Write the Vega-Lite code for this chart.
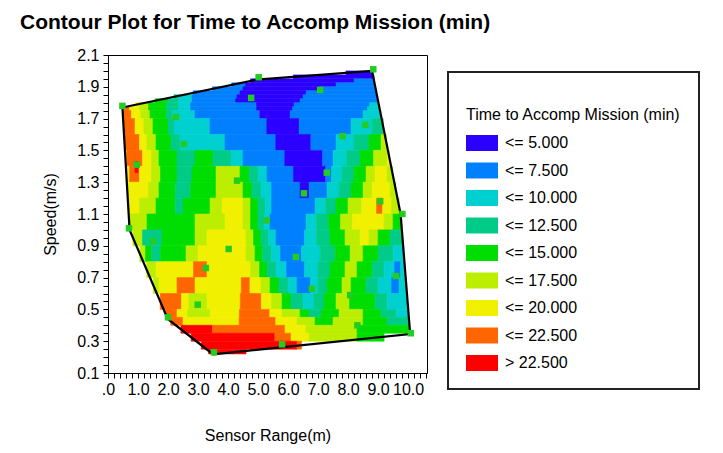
{
"$schema":"https://vega.github.io/schema/vega-lite/v6.json",
"width":319,"height":318,
"autosize":{"type":"none"},
"padding":{"left":108,"top":55,"right":296,"bottom":80},
"background":"white",
"config":{"font":"Liberation Sans","view":{"stroke":"black","strokeWidth":1}},
"title":{"text":"Contour Plot for Time to Accomp Mission (min)","anchor":"start","frame":"group","dx":-88,"offset":14,"fontSize":21,"fontWeight":"bold","color":"black","font":"Liberation Sans"},
"datasets":{
"cells":[
{"xa":7.93,"xb":8.82,"ya":1.975,"yb":2.0,"v":4},
{"xa":6.18,"xb":8.86,"ya":1.95,"yb":1.975,"v":4},
{"xa":4.75,"xb":8.2,"ya":1.925,"yb":1.95,"v":4},{"xa":8.2,"xb":8.87,"ya":1.925,"yb":1.95,"v":6},
{"xa":4.12,"xb":4.58,"ya":1.9,"yb":1.925,"v":6},{"xa":4.58,"xb":7.6,"ya":1.9,"yb":1.925,"v":4},{"xa":7.6,"xb":8.89,"ya":1.9,"yb":1.925,"v":6},
{"xa":3.48,"xb":4.5,"ya":1.875,"yb":1.9,"v":6},{"xa":4.5,"xb":7.04,"ya":1.875,"yb":1.9,"v":4},{"xa":7.04,"xb":8.91,"ya":1.875,"yb":1.9,"v":6},
{"xa":2.84,"xb":4.4,"ya":1.85,"yb":1.875,"v":6},{"xa":4.4,"xb":6.6,"ya":1.85,"yb":1.875,"v":4},{"xa":6.6,"xb":8.94,"ya":1.85,"yb":1.875,"v":6},
{"xa":2.2,"xb":2.35,"ya":1.825,"yb":1.85,"v":11},{"xa":2.35,"xb":2.8,"ya":1.825,"yb":1.85,"v":9},{"xa":2.8,"xb":4.3,"ya":1.825,"yb":1.85,"v":6},{"xa":4.3,"xb":6.5,"ya":1.825,"yb":1.85,"v":4},{"xa":6.5,"xb":8.95,"ya":1.825,"yb":1.85,"v":6},
{"xa":1.57,"xb":2.0,"ya":1.8,"yb":1.825,"v":14},{"xa":2.0,"xb":2.35,"ya":1.8,"yb":1.825,"v":11},{"xa":2.35,"xb":2.8,"ya":1.8,"yb":1.825,"v":9},{"xa":2.8,"xb":4.25,"ya":1.8,"yb":1.825,"v":6},{"xa":4.25,"xb":6.4,"ya":1.8,"yb":1.825,"v":4},{"xa":6.4,"xb":8.97,"ya":1.8,"yb":1.825,"v":6},
{"xa":0.93,"xb":1.05,"ya":1.775,"yb":1.8,"v":19},{"xa":1.05,"xb":1.35,"ya":1.775,"yb":1.8,"v":16},{"xa":1.35,"xb":1.95,"ya":1.775,"yb":1.8,"v":14},{"xa":1.95,"xb":2.35,"ya":1.775,"yb":1.8,"v":11},{"xa":2.35,"xb":2.75,"ya":1.775,"yb":1.8,"v":9},{"xa":2.75,"xb":4.95,"ya":1.775,"yb":1.8,"v":6},{"xa":4.95,"xb":6.2,"ya":1.775,"yb":1.8,"v":4},{"xa":6.2,"xb":8.72,"ya":1.775,"yb":1.8,"v":6},{"xa":8.72,"xb":9.02,"ya":1.775,"yb":1.8,"v":9},
{"xa":0.5,"xb":0.72,"ya":1.75,"yb":1.775,"v":21},{"xa":0.72,"xb":1.05,"ya":1.75,"yb":1.775,"v":19},{"xa":1.05,"xb":1.35,"ya":1.75,"yb":1.775,"v":16},{"xa":1.35,"xb":1.95,"ya":1.75,"yb":1.775,"v":14},{"xa":1.95,"xb":2.35,"ya":1.75,"yb":1.775,"v":11},{"xa":2.35,"xb":2.75,"ya":1.75,"yb":1.775,"v":9},{"xa":2.75,"xb":4.95,"ya":1.75,"yb":1.775,"v":6},{"xa":4.95,"xb":6.15,"ya":1.75,"yb":1.775,"v":4},{"xa":6.15,"xb":8.65,"ya":1.75,"yb":1.775,"v":6},{"xa":8.65,"xb":9.05,"ya":1.75,"yb":1.775,"v":9},
{"xa":0.5,"xb":0.78,"ya":1.7,"yb":1.75,"v":21},{"xa":0.78,"xb":1.1,"ya":1.7,"yb":1.75,"v":19},{"xa":1.1,"xb":1.4,"ya":1.7,"yb":1.75,"v":16},{"xa":1.4,"xb":1.95,"ya":1.7,"yb":1.75,"v":14},{"xa":1.95,"xb":2.15,"ya":1.7,"yb":1.75,"v":11},{"xa":2.15,"xb":2.9,"ya":1.7,"yb":1.75,"v":9},{"xa":2.9,"xb":5.06,"ya":1.7,"yb":1.75,"v":6},{"xa":5.06,"xb":6.07,"ya":1.7,"yb":1.75,"v":4},{"xa":6.07,"xb":8.5,"ya":1.7,"yb":1.75,"v":6},{"xa":8.5,"xb":9.09,"ya":1.7,"yb":1.75,"v":9},
{"xa":0.52,"xb":0.9,"ya":1.6,"yb":1.7,"v":21},{"xa":0.9,"xb":1.2,"ya":1.6,"yb":1.7,"v":19},{"xa":1.2,"xb":1.5,"ya":1.6,"yb":1.7,"v":16},{"xa":1.5,"xb":2.0,"ya":1.6,"yb":1.7,"v":14},{"xa":2.0,"xb":2.2,"ya":1.6,"yb":1.7,"v":11},{"xa":2.2,"xb":3.4,"ya":1.6,"yb":1.7,"v":9},{"xa":3.4,"xb":5.29,"ya":1.6,"yb":1.7,"v":6},{"xa":5.29,"xb":6.37,"ya":1.6,"yb":1.7,"v":4},{"xa":6.37,"xb":8.1,"ya":1.6,"yb":1.7,"v":6},{"xa":8.1,"xb":8.8,"ya":1.6,"yb":1.7,"v":9},{"xa":8.8,"xb":9.17,"ya":1.6,"yb":1.7,"v":11},
{"xa":0.55,"xb":1.05,"ya":1.5,"yb":1.6,"v":21},{"xa":1.05,"xb":1.3,"ya":1.5,"yb":1.6,"v":19},{"xa":1.3,"xb":1.6,"ya":1.5,"yb":1.6,"v":16},{"xa":1.6,"xb":2.1,"ya":1.5,"yb":1.6,"v":14},{"xa":2.1,"xb":2.4,"ya":1.5,"yb":1.6,"v":11},{"xa":2.4,"xb":3.9,"ya":1.5,"yb":1.6,"v":9},{"xa":3.9,"xb":5.59,"ya":1.5,"yb":1.6,"v":6},{"xa":5.59,"xb":6.76,"ya":1.5,"yb":1.6,"v":4},{"xa":6.76,"xb":7.6,"ya":1.5,"yb":1.6,"v":6},{"xa":7.6,"xb":8.2,"ya":1.5,"yb":1.6,"v":9},{"xa":8.2,"xb":8.7,"ya":1.5,"yb":1.6,"v":11},{"xa":8.7,"xb":9.1,"ya":1.5,"yb":1.6,"v":14},{"xa":9.1,"xb":9.28,"ya":1.5,"yb":1.6,"v":16},
{"xa":0.58,"xb":0.63,"ya":1.4,"yb":1.5,"v":19},{"xa":0.63,"xb":1.15,"ya":1.4,"yb":1.5,"v":21},{"xa":1.15,"xb":1.45,"ya":1.4,"yb":1.5,"v":19},{"xa":1.45,"xb":1.7,"ya":1.4,"yb":1.5,"v":16},{"xa":1.7,"xb":2.3,"ya":1.4,"yb":1.5,"v":14},{"xa":2.3,"xb":2.9,"ya":1.4,"yb":1.5,"v":11},{"xa":2.9,"xb":3.5,"ya":1.4,"yb":1.5,"v":14},{"xa":3.5,"xb":4.1,"ya":1.4,"yb":1.5,"v":11},{"xa":4.1,"xb":4.5,"ya":1.4,"yb":1.5,"v":9},{"xa":4.5,"xb":5.89,"ya":1.4,"yb":1.5,"v":6},{"xa":5.89,"xb":7.15,"ya":1.4,"yb":1.5,"v":4},{"xa":7.15,"xb":7.5,"ya":1.4,"yb":1.5,"v":6},{"xa":7.5,"xb":7.95,"ya":1.4,"yb":1.5,"v":9},{"xa":7.95,"xb":8.4,"ya":1.4,"yb":1.5,"v":11},{"xa":8.4,"xb":8.85,"ya":1.4,"yb":1.5,"v":14},{"xa":8.85,"xb":9.3,"ya":1.4,"yb":1.5,"v":16},{"xa":9.3,"xb":9.38,"ya":1.4,"yb":1.5,"v":19},
{"xa":0.61,"xb":0.72,"ya":1.3,"yb":1.4,"v":19},{"xa":0.72,"xb":1.05,"ya":1.3,"yb":1.4,"v":21},{"xa":1.05,"xb":1.45,"ya":1.3,"yb":1.4,"v":19},{"xa":1.45,"xb":1.75,"ya":1.3,"yb":1.4,"v":16},{"xa":1.75,"xb":2.3,"ya":1.3,"yb":1.4,"v":14},{"xa":2.3,"xb":2.8,"ya":1.3,"yb":1.4,"v":11},{"xa":2.8,"xb":3.6,"ya":1.3,"yb":1.4,"v":14},{"xa":3.6,"xb":4.4,"ya":1.3,"yb":1.4,"v":16},{"xa":4.4,"xb":4.7,"ya":1.3,"yb":1.4,"v":14},{"xa":4.7,"xb":5.0,"ya":1.3,"yb":1.4,"v":11},{"xa":5.0,"xb":5.3,"ya":1.3,"yb":1.4,"v":9},{"xa":5.3,"xb":6.18,"ya":1.3,"yb":1.4,"v":6},{"xa":6.18,"xb":7.25,"ya":1.3,"yb":1.4,"v":4},{"xa":7.25,"xb":7.45,"ya":1.3,"yb":1.4,"v":6},{"xa":7.45,"xb":7.8,"ya":1.3,"yb":1.4,"v":9},{"xa":7.8,"xb":8.2,"ya":1.3,"yb":1.4,"v":11},{"xa":8.2,"xb":8.6,"ya":1.3,"yb":1.4,"v":14},{"xa":8.6,"xb":8.9,"ya":1.3,"yb":1.4,"v":16},{"xa":8.9,"xb":9.3,"ya":1.3,"yb":1.4,"v":19},{"xa":9.3,"xb":9.49,"ya":1.3,"yb":1.4,"v":16},
{"xa":0.9,"xb":1.0,"ya":1.36,"yb":1.43,"v":24},
{"xa":0.64,"xb":1.35,"ya":1.2,"yb":1.3,"v":19},{"xa":1.35,"xb":1.7,"ya":1.2,"yb":1.3,"v":16},{"xa":1.7,"xb":2.25,"ya":1.2,"yb":1.3,"v":14},{"xa":2.25,"xb":2.75,"ya":1.2,"yb":1.3,"v":11},{"xa":2.75,"xb":3.6,"ya":1.2,"yb":1.3,"v":14},{"xa":3.6,"xb":4.5,"ya":1.2,"yb":1.3,"v":16},{"xa":4.5,"xb":4.8,"ya":1.2,"yb":1.3,"v":14},{"xa":4.8,"xb":5.1,"ya":1.2,"yb":1.3,"v":11},{"xa":5.1,"xb":5.45,"ya":1.2,"yb":1.3,"v":9},{"xa":5.45,"xb":6.4,"ya":1.2,"yb":1.3,"v":6},{"xa":6.4,"xb":6.7,"ya":1.2,"yb":1.3,"v":4},{"xa":6.7,"xb":7.3,"ya":1.2,"yb":1.3,"v":6},{"xa":7.3,"xb":7.7,"ya":1.2,"yb":1.3,"v":9},{"xa":7.7,"xb":8.1,"ya":1.2,"yb":1.3,"v":11},{"xa":8.1,"xb":8.5,"ya":1.2,"yb":1.3,"v":14},{"xa":8.5,"xb":8.8,"ya":1.2,"yb":1.3,"v":16},{"xa":8.8,"xb":9.4,"ya":1.2,"yb":1.3,"v":19},{"xa":9.4,"xb":9.59,"ya":1.2,"yb":1.3,"v":16},
{"xa":0.67,"xb":1.05,"ya":1.1,"yb":1.2,"v":19},{"xa":1.05,"xb":1.6,"ya":1.1,"yb":1.2,"v":16},{"xa":1.6,"xb":2.25,"ya":1.1,"yb":1.2,"v":14},{"xa":2.25,"xb":2.5,"ya":1.1,"yb":1.2,"v":11},{"xa":2.5,"xb":3.4,"ya":1.1,"yb":1.2,"v":14},{"xa":3.4,"xb":3.8,"ya":1.1,"yb":1.2,"v":16},{"xa":3.8,"xb":4.5,"ya":1.1,"yb":1.2,"v":19},{"xa":4.5,"xb":4.75,"ya":1.1,"yb":1.2,"v":16},{"xa":4.75,"xb":5.0,"ya":1.1,"yb":1.2,"v":14},{"xa":5.0,"xb":5.25,"ya":1.1,"yb":1.2,"v":11},{"xa":5.25,"xb":5.45,"ya":1.1,"yb":1.2,"v":9},{"xa":5.45,"xb":6.9,"ya":1.1,"yb":1.2,"v":6},{"xa":6.9,"xb":7.25,"ya":1.1,"yb":1.2,"v":9},{"xa":7.25,"xb":7.6,"ya":1.1,"yb":1.2,"v":11},{"xa":7.6,"xb":8.0,"ya":1.1,"yb":1.2,"v":14},{"xa":8.0,"xb":8.45,"ya":1.1,"yb":1.2,"v":16},{"xa":8.45,"xb":8.95,"ya":1.1,"yb":1.2,"v":19},{"xa":8.95,"xb":9.15,"ya":1.1,"yb":1.2,"v":21},{"xa":9.15,"xb":9.45,"ya":1.1,"yb":1.2,"v":19},{"xa":9.45,"xb":9.7,"ya":1.1,"yb":1.2,"v":16},
{"xa":0.7,"xb":1.3,"ya":1.0,"yb":1.1,"v":16},{"xa":1.3,"xb":2.9,"ya":1.0,"yb":1.1,"v":14},{"xa":2.9,"xb":3.9,"ya":1.0,"yb":1.1,"v":16},{"xa":3.9,"xb":4.5,"ya":1.0,"yb":1.1,"v":19},{"xa":4.5,"xb":4.75,"ya":1.0,"yb":1.1,"v":16},{"xa":4.75,"xb":5.0,"ya":1.0,"yb":1.1,"v":14},{"xa":5.0,"xb":5.2,"ya":1.0,"yb":1.1,"v":11},{"xa":5.2,"xb":5.4,"ya":1.0,"yb":1.1,"v":9},{"xa":5.4,"xb":6.6,"ya":1.0,"yb":1.1,"v":6},{"xa":6.6,"xb":6.95,"ya":1.0,"yb":1.1,"v":9},{"xa":6.95,"xb":7.35,"ya":1.0,"yb":1.1,"v":11},{"xa":7.35,"xb":7.75,"ya":1.0,"yb":1.1,"v":14},{"xa":7.75,"xb":8.15,"ya":1.0,"yb":1.1,"v":16},{"xa":8.15,"xb":9.2,"ya":1.0,"yb":1.1,"v":19},{"xa":9.2,"xb":9.5,"ya":1.0,"yb":1.1,"v":16},{"xa":9.5,"xb":9.77,"ya":1.0,"yb":1.1,"v":14},
{"xa":0.83,"xb":1.15,"ya":0.9,"yb":1.0,"v":16},{"xa":1.15,"xb":1.8,"ya":0.9,"yb":1.0,"v":11},{"xa":1.8,"xb":2.9,"ya":0.9,"yb":1.0,"v":14},{"xa":2.9,"xb":3.3,"ya":0.9,"yb":1.0,"v":16},{"xa":3.3,"xb":4.6,"ya":0.9,"yb":1.0,"v":19},{"xa":4.6,"xb":4.85,"ya":0.9,"yb":1.0,"v":16},{"xa":4.85,"xb":5.1,"ya":0.9,"yb":1.0,"v":14},{"xa":5.1,"xb":5.35,"ya":0.9,"yb":1.0,"v":11},{"xa":5.35,"xb":5.6,"ya":0.9,"yb":1.0,"v":9},{"xa":5.6,"xb":6.55,"ya":0.9,"yb":1.0,"v":6},{"xa":6.55,"xb":6.95,"ya":0.9,"yb":1.0,"v":9},{"xa":6.95,"xb":7.4,"ya":0.9,"yb":1.0,"v":11},{"xa":7.4,"xb":7.9,"ya":0.9,"yb":1.0,"v":14},{"xa":7.9,"xb":8.4,"ya":0.9,"yb":1.0,"v":16},{"xa":8.4,"xb":8.7,"ya":0.9,"yb":1.0,"v":19},{"xa":8.7,"xb":9.0,"ya":0.9,"yb":1.0,"v":16},{"xa":9.0,"xb":9.4,"ya":0.9,"yb":1.0,"v":14},{"xa":9.4,"xb":9.81,"ya":0.9,"yb":1.0,"v":11},
{"xa":1.06,"xb":1.25,"ya":0.8,"yb":0.9,"v":16},{"xa":1.25,"xb":1.45,"ya":0.8,"yb":0.9,"v":14},{"xa":1.45,"xb":1.75,"ya":0.8,"yb":0.9,"v":11},{"xa":1.75,"xb":2.6,"ya":0.8,"yb":0.9,"v":14},{"xa":2.6,"xb":3.0,"ya":0.8,"yb":0.9,"v":16},{"xa":3.0,"xb":4.6,"ya":0.8,"yb":0.9,"v":19},{"xa":4.6,"xb":4.9,"ya":0.8,"yb":0.9,"v":16},{"xa":4.9,"xb":5.15,"ya":0.8,"yb":0.9,"v":14},{"xa":5.15,"xb":5.45,"ya":0.8,"yb":0.9,"v":11},{"xa":5.45,"xb":5.75,"ya":0.8,"yb":0.9,"v":9},{"xa":5.75,"xb":6.45,"ya":0.8,"yb":0.9,"v":6},{"xa":6.45,"xb":7.07,"ya":0.8,"yb":0.9,"v":9},{"xa":7.07,"xb":7.57,"ya":0.8,"yb":0.9,"v":11},{"xa":7.57,"xb":8.07,"ya":0.8,"yb":0.9,"v":14},{"xa":8.07,"xb":8.5,"ya":0.8,"yb":0.9,"v":16},{"xa":8.5,"xb":9.0,"ya":0.8,"yb":0.9,"v":14},{"xa":9.0,"xb":9.5,"ya":0.8,"yb":0.9,"v":11},{"xa":9.5,"xb":9.85,"ya":0.8,"yb":0.9,"v":9},
{"xa":1.29,"xb":1.6,"ya":0.7,"yb":0.8,"v":16},{"xa":1.6,"xb":2.85,"ya":0.7,"yb":0.8,"v":19},{"xa":2.85,"xb":3.3,"ya":0.7,"yb":0.8,"v":21},{"xa":3.3,"xb":4.75,"ya":0.7,"yb":0.8,"v":19},{"xa":4.75,"xb":5.05,"ya":0.7,"yb":0.8,"v":16},{"xa":5.05,"xb":5.3,"ya":0.7,"yb":0.8,"v":14},{"xa":5.3,"xb":5.6,"ya":0.7,"yb":0.8,"v":11},{"xa":5.6,"xb":5.95,"ya":0.7,"yb":0.8,"v":9},{"xa":5.95,"xb":6.55,"ya":0.7,"yb":0.8,"v":6},{"xa":6.55,"xb":7.0,"ya":0.7,"yb":0.8,"v":9},{"xa":7.0,"xb":7.4,"ya":0.7,"yb":0.8,"v":11},{"xa":7.4,"xb":7.9,"ya":0.7,"yb":0.8,"v":14},{"xa":7.9,"xb":8.3,"ya":0.7,"yb":0.8,"v":16},{"xa":8.3,"xb":8.8,"ya":0.7,"yb":0.8,"v":14},{"xa":8.8,"xb":9.2,"ya":0.7,"yb":0.8,"v":11},{"xa":9.2,"xb":9.55,"ya":0.7,"yb":0.8,"v":9},{"xa":9.55,"xb":9.75,"ya":0.7,"yb":0.8,"v":6},{"xa":9.75,"xb":9.89,"ya":0.7,"yb":0.8,"v":9},
{"xa":1.51,"xb":1.7,"ya":0.6,"yb":0.7,"v":16},{"xa":1.7,"xb":2.3,"ya":0.6,"yb":0.7,"v":19},{"xa":2.3,"xb":2.9,"ya":0.6,"yb":0.7,"v":21},{"xa":2.9,"xb":4.44,"ya":0.6,"yb":0.7,"v":19},{"xa":4.44,"xb":4.73,"ya":0.6,"yb":0.7,"v":21},{"xa":4.73,"xb":5.1,"ya":0.6,"yb":0.7,"v":19},{"xa":5.1,"xb":5.4,"ya":0.6,"yb":0.7,"v":16},{"xa":5.4,"xb":5.7,"ya":0.6,"yb":0.7,"v":14},{"xa":5.7,"xb":6.0,"ya":0.6,"yb":0.7,"v":11},{"xa":6.0,"xb":6.3,"ya":0.6,"yb":0.7,"v":9},{"xa":6.3,"xb":6.75,"ya":0.6,"yb":0.7,"v":6},{"xa":6.75,"xb":7.0,"ya":0.6,"yb":0.7,"v":9},{"xa":7.0,"xb":7.3,"ya":0.6,"yb":0.7,"v":11},{"xa":7.3,"xb":7.8,"ya":0.6,"yb":0.7,"v":14},{"xa":7.8,"xb":8.1,"ya":0.6,"yb":0.7,"v":16},{"xa":8.1,"xb":8.6,"ya":0.6,"yb":0.7,"v":14},{"xa":8.6,"xb":9.0,"ya":0.6,"yb":0.7,"v":11},{"xa":9.0,"xb":9.45,"ya":0.6,"yb":0.7,"v":9},{"xa":9.45,"xb":9.7,"ya":0.6,"yb":0.7,"v":6},{"xa":9.7,"xb":9.94,"ya":0.6,"yb":0.7,"v":9},
{"xa":1.74,"xb":2.45,"ya":0.5,"yb":0.6,"v":21},{"xa":2.45,"xb":2.7,"ya":0.5,"yb":0.6,"v":19},{"xa":2.7,"xb":3.3,"ya":0.5,"yb":0.6,"v":16},{"xa":3.3,"xb":4.41,"ya":0.5,"yb":0.6,"v":19},{"xa":4.41,"xb":5.11,"ya":0.5,"yb":0.6,"v":21},{"xa":5.11,"xb":5.45,"ya":0.5,"yb":0.6,"v":19},{"xa":5.45,"xb":5.8,"ya":0.5,"yb":0.6,"v":16},{"xa":5.8,"xb":6.1,"ya":0.5,"yb":0.6,"v":14},{"xa":6.1,"xb":6.5,"ya":0.5,"yb":0.6,"v":11},{"xa":6.5,"xb":6.85,"ya":0.5,"yb":0.6,"v":9},{"xa":6.85,"xb":7.2,"ya":0.5,"yb":0.6,"v":11},{"xa":7.2,"xb":7.6,"ya":0.5,"yb":0.6,"v":14},{"xa":7.6,"xb":8.05,"ya":0.5,"yb":0.6,"v":16},{"xa":8.05,"xb":8.9,"ya":0.5,"yb":0.6,"v":14},{"xa":8.9,"xb":9.3,"ya":0.5,"yb":0.6,"v":11},{"xa":9.3,"xb":9.98,"ya":0.5,"yb":0.6,"v":9},
{"xa":1.91,"xb":2.3,"ya":0.45,"yb":0.5,"v":21},{"xa":2.3,"xb":2.65,"ya":0.45,"yb":0.5,"v":19},{"xa":2.65,"xb":3.4,"ya":0.45,"yb":0.5,"v":16},{"xa":3.4,"xb":4.38,"ya":0.45,"yb":0.5,"v":19},{"xa":4.38,"xb":5.39,"ya":0.45,"yb":0.5,"v":21},{"xa":5.39,"xb":5.8,"ya":0.45,"yb":0.5,"v":19},{"xa":5.8,"xb":6.4,"ya":0.45,"yb":0.5,"v":16},{"xa":6.4,"xb":6.7,"ya":0.45,"yb":0.5,"v":14},{"xa":6.7,"xb":7.1,"ya":0.45,"yb":0.5,"v":11},{"xa":7.1,"xb":7.7,"ya":0.45,"yb":0.5,"v":14},{"xa":7.7,"xb":8.5,"ya":0.45,"yb":0.5,"v":16},{"xa":8.5,"xb":9.1,"ya":0.45,"yb":0.5,"v":14},{"xa":9.1,"xb":9.6,"ya":0.45,"yb":0.5,"v":11},{"xa":9.6,"xb":10.01,"ya":0.45,"yb":0.5,"v":9},
{"xa":2.09,"xb":2.5,"ya":0.4,"yb":0.45,"v":21},{"xa":2.5,"xb":4.37,"ya":0.4,"yb":0.45,"v":19},{"xa":4.37,"xb":5.59,"ya":0.4,"yb":0.45,"v":21},{"xa":5.59,"xb":6.3,"ya":0.4,"yb":0.45,"v":19},{"xa":6.3,"xb":6.9,"ya":0.4,"yb":0.45,"v":16},{"xa":6.9,"xb":7.5,"ya":0.4,"yb":0.45,"v":14},{"xa":7.5,"xb":8.5,"ya":0.4,"yb":0.45,"v":16},{"xa":8.5,"xb":9.3,"ya":0.4,"yb":0.45,"v":14},{"xa":9.3,"xb":10.03,"ya":0.4,"yb":0.45,"v":11},
{"xa":2.43,"xb":3.48,"ya":0.35,"yb":0.4,"v":24},{"xa":3.48,"xb":5.9,"ya":0.35,"yb":0.4,"v":21},{"xa":5.9,"xb":6.6,"ya":0.35,"yb":0.4,"v":19},{"xa":6.6,"xb":8.3,"ya":0.35,"yb":0.4,"v":16},{"xa":8.3,"xb":10.05,"ya":0.35,"yb":0.4,"v":14},
{"xa":2.77,"xb":5.56,"ya":0.3,"yb":0.35,"v":24},{"xa":5.56,"xb":6.1,"ya":0.3,"yb":0.35,"v":21},{"xa":6.1,"xb":6.7,"ya":0.3,"yb":0.35,"v":19},{"xa":6.7,"xb":8.3,"ya":0.3,"yb":0.35,"v":16},{"xa":8.3,"xb":9.2,"ya":0.3,"yb":0.35,"v":14},
{"xa":3.11,"xb":6.3,"ya":0.25,"yb":0.3,"v":24},{"xa":6.3,"xb":6.45,"ya":0.25,"yb":0.3,"v":21},
{"xa":3.35,"xb":4.6,"ya":0.22,"yb":0.25,"v":24}
],
"hull":[{"o":1,"x":0.48,"y":1.77},{"o":2,"x":4.95,"y":1.945},{"o":3,"x":8.8,"y":2.0},{"o":4,"x":9.75,"y":1.1},{"o":5,"x":10.07,"y":0.345},{"o":6,"x":3.5,"y":0.218},{"o":7,"x":1.99,"y":0.44},{"o":8,"x":0.72,"y":1.0},{"o":9,"x":0.48,"y":1.77}],
"pts":[{"x":0.48,"y":1.78},{"x":0.96,"y":1.41},{"x":2.26,"y":1.71},{"x":2.53,"y":1.54},{"x":5.02,"y":1.96},{"x":4.77,"y":1.83},{"x":7.07,"y":1.88},{"x":8.84,"y":2.01},{"x":8.58,"y":1.66},{"x":7.82,"y":1.59},{"x":7.29,"y":1.36},{"x":6.53,"y":1.23},{"x":4.3,"y":1.31},{"x":9.07,"y":1.18},{"x":9.81,"y":1.1},{"x":0.7,"y":1.01},{"x":1.5,"y":0.93},{"x":5.29,"y":1.06},{"x":4.02,"y":0.88},{"x":6.26,"y":0.83},{"x":3.26,"y":0.76},{"x":6.79,"y":0.63},{"x":9.6,"y":0.71},{"x":2.99,"y":0.53},{"x":8.07,"y":0.59},{"x":2.0,"y":0.45},{"x":8.31,"y":0.4},{"x":10.09,"y":0.35},{"x":5.8,"y":0.28},{"x":3.53,"y":0.23}]
},
"layer":[
{"data":{"name":"cells"},
 "mark":{"type":"rect","strokeWidth":0.6},
 "encoding":{
  "x":{"field":"xa","type":"quantitative","scale":{"domain":[0,10.63],"nice":false,"zero":false},
   "axis":{"title":"Sensor Range(m)","tickCount":80,"values":[0,0.2,0.4,0.6,0.8,1,1.2,1.4,1.6,1.8,2,2.2,2.4,2.6,2.8,3,3.2,3.4,3.6,3.8,4,4.2,4.4,4.6,4.8,5,5.2,5.4,5.6,5.8,6,6.2,6.4,6.6,6.8,7,7.2,7.4,7.6,7.8,8,8.2,8.4,8.6,8.8,9,9.2,9.4,9.6,9.8,10,10.2,10.4,10.6],
    "labelExpr":"abs(datum.value-round(datum.value))<0.01 ? (datum.value<0.5 ? '.0' : format(datum.value,'.1f')) : ''",
    "labelOverlap":false,"labelFlush":false,"labelFontSize":16,"labelColor":"black","labelPadding":3,"tickSize":5,"tickColor":"black","domainColor":"black","grid":false,"titleFontSize":16,"titleFontWeight":"normal","titleColor":"black","titlePadding":30}},
  "x2":{"field":"xb"},
  "y":{"field":"ya","type":"quantitative","scale":{"domain":[0.1,2.1],"nice":false,"zero":false},
   "axis":{"title":"Speed(m/s)","tickCount":80,"values":[0.1,0.15,0.2,0.25,0.3,0.35,0.4,0.45,0.5,0.55,0.6,0.65,0.7,0.75,0.8,0.85,0.9,0.95,1.0,1.05,1.1,1.15,1.2,1.25,1.3,1.35,1.4,1.45,1.5,1.55,1.6,1.65,1.7,1.75,1.8,1.85,1.9,1.95,2.0,2.05,2.1],
    "labelExpr":"(abs(datum.value*10-round(datum.value*10))<0.01 && round(datum.value*10)%2==1) ? format(datum.value,'.1f') : ''",
    "labelOverlap":false,"labelFlush":false,"labelFontSize":16,"labelColor":"black","labelPadding":4,"tickSize":5,"tickColor":"black","domainColor":"black","grid":false,"titleFontSize":16,"titleFontWeight":"normal","titleColor":"black","titlePadding":18}},
  "y2":{"field":"yb"},
  "color":{"field":"v","type":"quantitative","scale":{"type":"threshold","domain":[5,7.5,10,12.5,15,17.5,20,22.5],"range":["#2b00ff","#0080ff","#00d0d0","#00cc88","#00dd00","#bbee00","#f0f000","#ff6600","#ff0000"]},
   "legend":{"orient":"none","legendX":340,"legendY":17,"title":["","Time to Accomp Mission (min)            "],"titleLimit":500,"titleFontSize":16,"titleFontWeight":"normal","titleColor":"black","titleLineHeight":17,"titlePadding":4,"padding":18,"strokeColor":"#222222","fillColor":"white",
    "encode":{"legend":{"update":{"strokeWidth":{"value":2}}}},
    "symbolType":"M-1,-0.5H1V0.5H-1Z","symbolSize":1024,"symbolStrokeWidth":0,"symbolOpacity":1,"labelFontSize":16,"labelColor":"black","labelOffset":7,"rowPadding":3.5,
    "labelExpr":"datum.value >= 22.5 ? '> 22.500' : '<= ' + format(datum.value < 1 ? 5 : datum.value + 2.5, '.3f')"}},
  "stroke":{"field":"v","type":"quantitative","scale":{"type":"threshold","domain":[5,7.5,10,12.5,15,17.5,20,22.5],"range":["#2b00ff","#0080ff","#00d0d0","#00cc88","#00dd00","#bbee00","#f0f000","#ff6600","#ff0000"]},"legend":null}
 }},
{"data":{"name":"hull"},
 "mark":{"type":"line","color":"black","strokeWidth":2.2},
 "encoding":{"x":{"field":"x","type":"quantitative"},"y":{"field":"y","type":"quantitative"},"order":{"field":"o","type":"quantitative"}}},
{"data":{"name":"pts"},
 "mark":{"type":"square","size":42,"color":"#22cc22","opacity":1,"filled":true},
 "encoding":{"x":{"field":"x","type":"quantitative"},"y":{"field":"y","type":"quantitative"}}}
]
}
